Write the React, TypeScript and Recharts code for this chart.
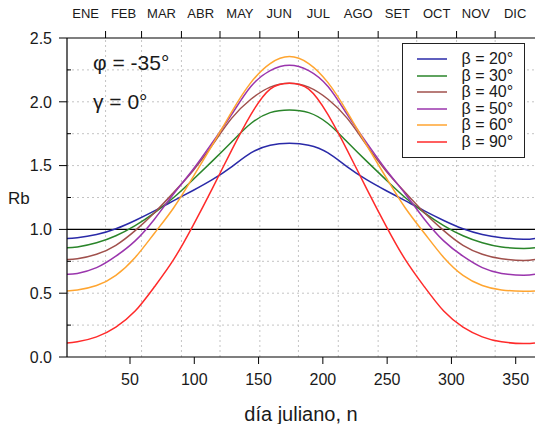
import React from 'react';
import { LineChart, Line, XAxis, YAxis, ReferenceLine, Legend } from 'recharts';

const days = [1, 9, 24, 39, 54, 69, 84, 99, 114, 129, 144, 159, 174, 189, 204, 219, 234, 249, 264, 279, 294, 309, 324, 339, 356, 365];

const beta20 = [0.929, 0.935, 0.96, 1.005, 1.07, 1.145, 1.225, 1.305, 1.39, 1.49, 1.6, 1.66, 1.675, 1.66, 1.6, 1.49, 1.39, 1.305, 1.225, 1.145, 1.07, 1.005, 0.96, 0.935, 0.922, 0.929];
const beta30 = [0.856, 0.862, 0.895, 0.95, 1.03, 1.13, 1.25, 1.39, 1.535, 1.685, 1.83, 1.915, 1.936, 1.915, 1.83, 1.685, 1.535, 1.39, 1.25, 1.13, 1.03, 0.95, 0.895, 0.862, 0.851, 0.856];
const beta40 = [0.765, 0.77, 0.805, 0.875, 0.99, 1.13, 1.29, 1.46, 1.66, 1.87, 2.02, 2.115, 2.146, 2.115, 2.02, 1.87, 1.66, 1.46, 1.29, 1.13, 0.99, 0.875, 0.805, 0.77, 0.757, 0.765];
const beta50 = [0.649, 0.655, 0.7, 0.79, 0.91, 1.08, 1.28, 1.47, 1.68, 1.9, 2.12, 2.245, 2.287, 2.245, 2.12, 1.9, 1.68, 1.47, 1.28, 1.08, 0.91, 0.79, 0.7, 0.655, 0.641, 0.649];
const beta60 = [0.518, 0.525, 0.56, 0.64, 0.78, 0.97, 1.17, 1.41, 1.66, 1.92, 2.15, 2.3, 2.355, 2.3, 2.15, 1.92, 1.66, 1.41, 1.17, 0.97, 0.78, 0.64, 0.56, 0.525, 0.516, 0.518];
const beta90 = [0.11, 0.119, 0.158, 0.235, 0.36, 0.55, 0.765, 1.03, 1.32, 1.62, 1.9, 2.1, 2.146, 2.1, 1.9, 1.62, 1.32, 1.03, 0.765, 0.55, 0.36, 0.235, 0.158, 0.119, 0.105, 0.11];

const seriesKeys = ['b20', 'b30', 'b40', 'b50', 'b60', 'b90'];
const seriesValues = [beta20, beta30, beta40, beta50, beta60, beta90];
const seriesLabels = ['β = 20°', 'β = 30°', 'β = 40°', 'β = 50°', 'β = 60°', 'β = 90°'];
const seriesColors = ['#2a2aa8', '#2a852a', '#a0504c', '#9a35ad', '#ffa530', '#ff2a2a'];

const monthBoundaries = [31, 59, 90, 120, 151, 181, 212, 243, 273, 304, 334];
const monthMids = [15.5, 45, 74.5, 105, 135.5, 166, 196.5, 227.5, 258, 288.5, 319, 349.5];
const monthLabels = ['ENE', 'FEB', 'MAR', 'ABR', 'MAY', 'JUN', 'JUL', 'AGO', 'SET', 'OCT', 'NOV', 'DIC'];
const topTicks = [...monthBoundaries, ...monthMids].sort((a, b) => a - b);

const xTicks = [50, 100, 150, 200, 250, 300, 350];
const yTicks = [0, 0.25, 0.5, 0.75, 1, 1.25, 1.5, 1.75, 2, 2.25, 2.5];
const yGrid = [0.25, 0.5, 0.75, 1.25, 1.5, 1.75, 2, 2.25];

const rows = days.map((d, i) => {
  const r: Record<string, number> = { day: d };
  seriesKeys.forEach((k, j) => {
    r[k] = seriesValues[j][i];
  });
  return r;
});

const FONT = '"Liberation Sans", Arial, Helvetica, sans-serif';
const TXT = '#1a1a1a';

const TopTick = (props: any) => {
  const { x, y, payload } = props;
  const v = payload.value;
  if (monthBoundaries.indexOf(v) >= 0) {
    return <line x1={x} x2={x} y1={y} y2={y + 7} stroke="#000" strokeWidth={1} />;
  }
  const mi = monthMids.indexOf(v);
  return (
    <text x={x} y={y - 13} textAnchor="middle" fontSize={13} fontFamily={FONT} fill={TXT}>
      {monthLabels[mi]}
    </text>
  );
};

const YTick = (props: any) => {
  const { x, y, payload } = props;
  const v = payload.value as number;
  const axisX = x + 15;
  const major = Math.abs(v * 2 - Math.round(v * 2)) < 1e-6;
  if (major) {
    return (
      <g>
        <line x1={axisX - 8} x2={axisX} y1={y} y2={y} stroke="#000" strokeWidth={1} />
        <text x={x} y={y} dy="0.36em" textAnchor="end" fontSize={16} fontFamily={FONT} fill={TXT}>
          {v.toFixed(1)}
        </text>
      </g>
    );
  }
  return <line x1={axisX} x2={axisX + 4} y1={y} y2={y} stroke="#000" strokeWidth={1} />;
};

const LegendBox = () => (
  <div
    style={{
      width: 123,
      height: 115,
      boxSizing: 'border-box',
      border: '1.5px solid #222',
      background: '#fff',
      paddingTop: 7,
      fontFamily: FONT,
    }}
  >
    {seriesLabels.map((lab, i) => (
      <div key={lab} style={{ display: 'flex', alignItems: 'center', height: 16.5 }}>
        <svg width={30} height={4} style={{ marginLeft: 13.5, display: 'block' }}>
          <line x1={0} x2={30} y1={2} y2={2} stroke={seriesColors[i]} strokeWidth={1.5} />
        </svg>
        <div style={{ marginLeft: 15, fontSize: 16, lineHeight: '16.5px', color: TXT, whiteSpace: 'nowrap' }}>{lab}</div>
      </div>
    ))}
  </div>
);

export default function App() {
  return (
    <div style={{ position: 'absolute', left: 0, top: 0, width: 535, height: 424, background: '#fff' }}>
      <LineChart width={535} height={424} data={rows} margin={{ top: 0, right: 0, bottom: 0, left: 0 }}>
        <XAxis
          xAxisId="top"
          orientation="top"
          type="number"
          dataKey="day"
          domain={[1, 365]}
          allowDataOverflow
          ticks={topTicks}
          interval={0}
          height={38}
          tickSize={7}
          tickMargin={0}
          tickLine={false}
          tick={<TopTick />}
          axisLine={{ stroke: '#000', strokeWidth: 1.2 }}
        />
        <XAxis
          type="number"
          dataKey="day"
          domain={[1, 365]}
          allowDataOverflow
          ticks={xTicks}
          interval={0}
          height={67}
          tickSize={7}
          tickMargin={10}
          tick={{ fontSize: 16, fontFamily: FONT, fill: TXT }}
          tickLine={{ stroke: '#000' }}
          axisLine={{ stroke: '#000', strokeWidth: 1.2 }}
          label={{ value: 'día juliano, n', position: 'insideBottom', offset: 3, fontSize: 20, fontFamily: FONT, fill: TXT }}
        />
        <YAxis
          type="number"
          domain={[0, 2.5]}
          allowDataOverflow
          ticks={yTicks}
          interval={0}
          width={67}
          tickSize={8}
          tickMargin={7}
          tickLine={false}
          tick={<YTick />}
          axisLine={{ stroke: '#000', strokeWidth: 1.2 }}
          label={{ value: 'Rb', position: 'insideLeft', offset: 8, angle: 0, fontSize: 17, fontFamily: FONT, fill: TXT }}
        />
        {yGrid.map((v) => (
          <ReferenceLine key={'gy' + v} y={v} stroke="#c4c4c4" strokeDasharray="2 3" strokeWidth={1} />
        ))}
        {monthBoundaries.map((d) => (
          <ReferenceLine key={'gx' + d} x={d} stroke="#c4c4c4" strokeDasharray="2 3" strokeWidth={1} />
        ))}
        <ReferenceLine y={1} stroke="#000" strokeWidth={1.3} />
        {seriesKeys.map((k, i) => (
          <Line
            key={k}
            dataKey={k}
            name={seriesLabels[i]}
            type="natural"
            stroke={seriesColors[i]}
            strokeWidth={1.5}
            dot={false}
            activeDot={false}
            isAnimationActive={false}
          />
        ))}
        <Legend
          layout="horizontal"
          verticalAlign="middle"
          align="center"
          wrapperStyle={{ position: 'absolute', left: 402, top: 43, width: 123, height: 115 }}
          content={() => <LegendBox />}
        />
      </LineChart>
      <svg width={535} height={424} style={{ position: 'absolute', left: 0, top: 0, pointerEvents: 'none' }}>
        <text x={93} y={70} fontSize={21} fontFamily={FONT} fill={TXT}>φ = -35°</text>
        <text x={93} y={109} fontSize={21} fontFamily={FONT} fill={TXT}>γ = 0°</text>
      </svg>
    </div>
  );
}
